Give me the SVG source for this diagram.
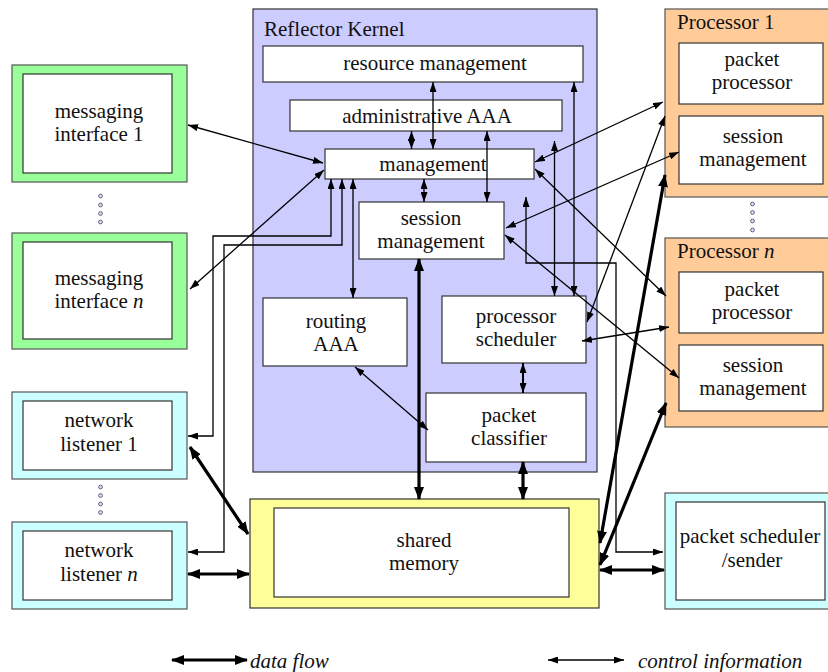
<svg xmlns="http://www.w3.org/2000/svg" width="828" height="672" viewBox="0 0 828 672">
<style>
text{font-family:"Liberation Serif","Times New Roman",serif;font-size:21px;fill:#111;text-anchor:middle}
.t{text-anchor:start}
.it{font-style:italic}
.box{fill:#fff;stroke:#333;stroke-width:1.2}
.kern{fill:#ccccff;stroke:#333;stroke-width:1.2}
.grn{fill:#99ff99;stroke:#555;stroke-width:1.2}
.cyn{fill:#ccffff;stroke:#555;stroke-width:1.2}
.org{fill:#ffcc99;stroke:#555;stroke-width:1.2}
.yel{fill:#ffff99;stroke:#333;stroke-width:1.2}
.dot{fill:#ddddff;stroke:#556;stroke-width:0.9}
.c{fill:none;stroke:#000;stroke-width:1.3;marker-start:url(#a);marker-end:url(#a)}
.d{fill:none;stroke:#000;stroke-width:3.2;marker-start:url(#b);marker-end:url(#b)}
</style>
<defs>
<marker id="a" viewBox="0 0 10 7" refX="10" refY="3.5" markerWidth="10" markerHeight="7" markerUnits="userSpaceOnUse" orient="auto-start-reverse"><path d="M0,0L10,3.5L0,7z" fill="#000"/></marker>
<marker id="b" viewBox="0 0 13 10" refX="12" refY="5" markerWidth="13" markerHeight="10" markerUnits="userSpaceOnUse" orient="auto-start-reverse"><path d="M0,0L13,5L0,10z" fill="#000"/></marker>
</defs>
<rect width="828" height="672" fill="#fff"/>

<g id="kernel">
<rect class="kern" x="253" y="9" width="344" height="463"/>
<text class="t" x="264" y="36">Reflector Kernel</text>
</g>
<g id="resource-management">
<rect class="box" x="263" y="46" width="320" height="36"/>
<text x="435" y="70">resource management</text>
</g>
<g id="administrative-aaa">
<rect class="box" x="290" y="100" width="272" height="31"/>
<text x="427" y="123">administrative AAA</text>
</g>
<g id="management">
<rect class="box" x="325" y="149" width="209" height="30"/>
<text x="433" y="171">management</text>
</g>
<g id="kernel-session-management">
<rect class="box" x="359" y="202" width="145" height="57"/>
<text x="431" y="225">session</text>
<text x="431" y="248">management</text>
</g>
<g id="routing-aaa">
<rect class="box" x="263" y="298" width="144" height="68"/>
<text x="336" y="328">routing</text>
<text x="336" y="351">AAA</text>
</g>
<g id="processor-scheduler">
<rect class="box" x="442" y="296" width="144" height="67"/>
<text x="516" y="323">processor</text>
<text x="516" y="346">scheduler</text>
</g>
<g id="packet-classifier">
<rect class="box" x="426" y="393" width="160" height="69"/>
<text x="509" y="422">packet</text>
<text x="509" y="445">classifier</text>
</g>

<g id="shared-memory">
<rect class="yel" x="250" y="499" width="349" height="109"/>
<rect class="box" x="274" y="508" width="295" height="89"/>
<text x="424" y="547">shared</text>
<text x="424" y="570">memory</text>
</g>

<g id="messaging-interface-1">
<rect class="grn" x="12" y="65" width="175" height="117"/>
<rect class="box" x="23" y="74" width="149" height="99"/>
<text x="99" y="118">messaging</text>
<text x="99" y="141">interface 1</text>
</g>
<g id="messaging-dots">
<circle class="dot" cx="100.5" cy="196" r="1.9"/><circle class="dot" cx="100.5" cy="205" r="1.9"/><circle class="dot" cx="100.5" cy="213.5" r="1.9"/><circle class="dot" cx="100.5" cy="222" r="1.9"/>
</g>
<g id="messaging-interface-n">
<rect class="grn" x="12" y="233" width="175" height="116"/>
<rect class="box" x="23" y="242" width="149" height="97"/>
<text x="99" y="285">messaging</text>
<text x="99" y="308">interface <tspan class="it">n</tspan></text>
</g>

<g id="network-listener-1">
<rect class="cyn" x="12" y="392" width="175" height="87"/>
<rect class="box" x="23" y="401" width="149" height="69"/>
<text x="99" y="427">network</text>
<text x="99" y="451">listener 1</text>
</g>
<g id="listener-dots">
<circle class="dot" cx="100.5" cy="487" r="1.9"/><circle class="dot" cx="100.5" cy="495.5" r="1.9"/><circle class="dot" cx="100.5" cy="504" r="1.9"/><circle class="dot" cx="100.5" cy="512.5" r="1.9"/>
</g>
<g id="network-listener-n">
<rect class="cyn" x="12" y="522" width="175" height="87"/>
<rect class="box" x="23" y="531" width="149" height="69"/>
<text x="99" y="557">network</text>
<text x="99" y="581">listener <tspan class="it">n</tspan></text>
</g>

<g id="processor-1">
<rect class="org" x="665" y="9" width="170" height="188"/>
<text class="t" x="677" y="29">Processor 1</text>
<rect class="box" x="679" y="43" width="144" height="61"/>
<text x="752" y="66">packet</text>
<text x="752" y="89">processor</text>
<rect class="box" x="679" y="116" width="144" height="68"/>
<text x="753" y="143">session</text>
<text x="753" y="166">management</text>
</g>
<g id="processor-dots">
<circle class="dot" cx="752.5" cy="204" r="1.9"/><circle class="dot" cx="752.5" cy="212.5" r="1.9"/><circle class="dot" cx="752.5" cy="221" r="1.9"/><circle class="dot" cx="752.5" cy="230" r="1.9"/>
</g>
<g id="processor-n">
<rect class="org" x="665" y="238" width="170" height="189"/>
<text class="t" x="677" y="258">Processor <tspan class="it">n</tspan></text>
<rect class="box" x="679" y="272" width="144" height="61"/>
<text x="752" y="296">packet</text>
<text x="752" y="319">processor</text>
<rect class="box" x="679" y="345" width="144" height="66"/>
<text x="753" y="372">session</text>
<text x="753" y="395">management</text>
</g>

<g id="packet-scheduler-sender">
<rect class="cyn" x="665" y="493" width="170" height="116"/>
<rect class="box" x="676" y="502" width="149" height="98"/>
<text x="750" y="543">packet scheduler</text>
<text x="752" y="567">/sender</text>
</g>

<g id="connectors">
<path class="c" d="M188,125L323,163"/>
<path class="c" d="M190,289L324,170"/>
<polyline class="c" points="331,179 331,236 213,236 213,436 188,436"/>
<polyline class="c" points="342,179 342,245 224,245 224,552 188,552"/>
<path class="c" d="M353,179L353,298"/>
<path class="c" d="M411.5,131L411.5,149"/>
<path class="c" d="M433,82L433,149"/>
<path class="c" d="M487,131L487,202"/>
<path class="c" d="M424,179L424,202"/>
<path class="c" d="M574,82L574,296"/>
<path class="c" d="M554.5,141L554.5,296"/>
<polyline class="c" points="526,197 526,263 616,263 616,552 663,552"/>
<path class="c" d="M535,162L663,102"/>
<path class="c" d="M506,228L679,152"/>
<path class="c" d="M665,116L587,322"/>
<path class="c" d="M535,169L666,296"/>
<path class="c" d="M505,235L679,378"/>
<path class="c" d="M582,341L669,327"/>
<path class="c" d="M355,367L428,430"/>
<path class="c" style="stroke-width:2" d="M523,363L523,393"/>
<path class="d" d="M419,259L419,499"/>
<path class="d" d="M523,462L523,499"/>
<path class="d" d="M190,447L248,534"/>
<path class="d" d="M188,574L249,574"/>
<path class="d" d="M600,543L665,175"/>
<path class="d" d="M600,565L666,403"/>
<path class="d" d="M600,570L664,570"/>
</g>

<g id="legend">
<path class="d" style="stroke-width:3" d="M172,660L247,660"/>
<text class="t it" x="250" y="668">data flow</text>
<path class="c" d="M548,660L624,660"/>
<text class="t it" x="638" y="668">control information</text>
</g>
</svg>
